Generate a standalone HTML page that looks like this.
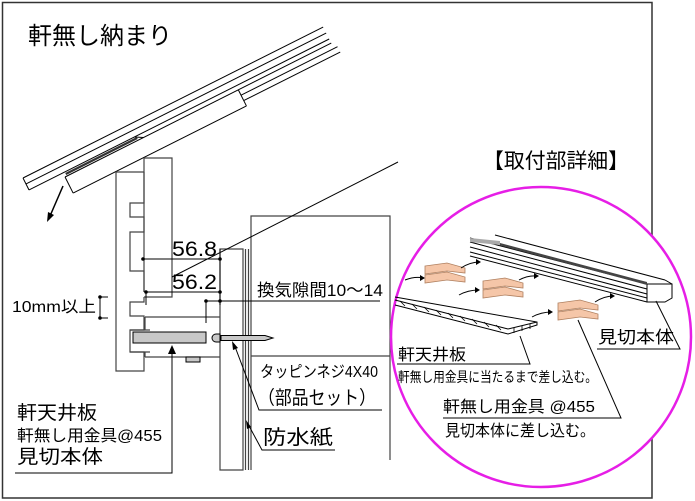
<!DOCTYPE html>
<html><head><meta charset="utf-8"><style>
html,body{margin:0;padding:0;background:#fff;}
svg{display:block;}
text{font-family:"Liberation Sans","Noto Sans CJK JP",sans-serif;fill:#000;}
</style></head><body>
<svg width="695" height="501" viewBox="0 0 695 501" xmlns="http://www.w3.org/2000/svg">
<rect x="0" y="0" width="695" height="501" fill="#fff"/>
<path d="M2.5 2.5 H652 V498 H2.5 Z" fill="none" stroke="#333" stroke-width="1.5"/>
<text x="28" y="44" font-size="24">軒無し納まり</text>

<g transform="translate(23,178) rotate(-26.7)" stroke="#000" stroke-width="1" fill="none">
  <line x1="0" y1="0" x2="336" y2="0"/>
  <line x1="0" y1="6.7" x2="336" y2="6.7"/>
  <line x1="0" y1="13.4" x2="336" y2="13.4"/>
  <line x1="0" y1="0" x2="0" y2="13.4"/>
  <line x1="38" y1="18" x2="336" y2="18"/>
  <line x1="232" y1="24" x2="340" y2="24"/>
  <line x1="232" y1="30" x2="340" y2="30"/>
  <line x1="38" y1="36" x2="232" y2="36"/>
  <line x1="38" y1="18" x2="38" y2="36"/>
  <line x1="232" y1="18" x2="232" y2="36"/>
  <line x1="118" y1="13.4" x2="126" y2="18"/>
  <rect x="40" y="14.5" width="80" height="2.2" fill="#333" stroke="none"/>
</g>
<line x1="63" y1="186" x2="50" y2="216" stroke="#000" stroke-width="1.5"/>
<path d="M47 222 L48 212 L54 215 Z" fill="#000"/>

<g stroke="#444" stroke-width="1.2" fill="none">
  <path d="M116 172 H144 M116 172 V371 H144 V352 H130 V330 H144 V316 H130 V302 H144 V297"/>
  <path d="M144 172 V203 H130 V217 H144 V232 H130 V271 H144 V292"/>
  <path d="M144 158 H172 V297 H144"/>
  <path d="M144 158 V292"/>
</g>
<g stroke="#444" stroke-width="1.2" fill="none">
  <path d="M145 317 H220 M145 357 H220 M145 317 V330 M145 352 V357"/>
  <path d="M130 330 H150 M130 352 H150"/>
</g>
<rect x="133" y="332" width="73" height="11" fill="#c8c8c8" stroke="#000" stroke-width="1"/>
<rect x="186" y="357" width="14" height="5" fill="#c8c8c8" stroke="#000" stroke-width="1"/>
<g stroke="#444" stroke-width="1.2" fill="none">
  <path d="M220 249 H243 V470 H220 Z"/>
  <line x1="245.5" y1="249" x2="245.5" y2="470"/>
  <line x1="248.5" y1="249" x2="248.5" y2="470"/>
  <path d="M251 470 V216 H390 V460"/>
  <line x1="251" y1="356" x2="390" y2="356"/>
</g>
<path d="M216 334 A4 4 0 0 0 216 342 H220 V334 Z" fill="#c8c8c8" stroke="#000" stroke-width="1"/>
<path d="M221 335.5 H265 L273 338 L265 340.5 H221 Z" fill="#c8c8c8" stroke="#000" stroke-width="1"/>

<g stroke="#000" stroke-width="1" fill="none">
  <line x1="143" y1="259" x2="220" y2="259"/>
  <line x1="145" y1="292" x2="220" y2="292"/>
  <line x1="146" y1="292" x2="146" y2="305"/>
  <line x1="206" y1="301" x2="380" y2="301"/>
  <line x1="206" y1="301" x2="206" y2="323"/>
  <line x1="220" y1="249" x2="220" y2="305"/>
  <line x1="172" y1="277" x2="398" y2="162"/>
  <path d="M100 297 V318 M100 297 H108 M100 318 H108"/>
</g>
<g fill="#000">
  <circle cx="143" cy="259" r="1.8"/><circle cx="220" cy="259" r="1.8"/>
  <circle cx="146" cy="292" r="1.8"/><circle cx="220" cy="292" r="1.8"/>
  <circle cx="206" cy="301" r="1.8"/><circle cx="220" cy="301" r="1.8"/>
  <circle cx="100" cy="297" r="1.8"/><circle cx="100" cy="318" r="1.8"/>
</g>
<text x="172" y="256" font-size="21" textLength="45" lengthAdjust="spacingAndGlyphs">56.8</text>
<text x="172" y="289" font-size="21" textLength="45" lengthAdjust="spacingAndGlyphs">56.2</text>
<text x="12" y="312" font-size="16" textLength="84" lengthAdjust="spacingAndGlyphs">10mm以上</text>

<text x="17" y="419" font-size="19" textLength="80" lengthAdjust="spacingAndGlyphs">軒天井板</text>
<text x="17" y="441" font-size="16" textLength="145" lengthAdjust="spacingAndGlyphs">軒無し用金具@455</text>
<text x="17" y="463" font-size="19" textLength="86" lengthAdjust="spacingAndGlyphs">見切本体</text>
<path d="M15 473 H172 V352" fill="none" stroke="#000" stroke-width="1"/>
<path d="M172 345 L168 354 H176 Z" fill="#000"/>

<text x="257" y="296" font-size="17" textLength="126" lengthAdjust="spacingAndGlyphs">換気隙間10～14</text>
<text x="260" y="377" font-size="16" textLength="118" lengthAdjust="spacingAndGlyphs">タッピンネジ4X40</text>
<text x="258" y="404" font-size="19" textLength="118" lengthAdjust="spacingAndGlyphs">（部品セット）</text>
<path d="M382 410 H259 L234 344" fill="none" stroke="#000" stroke-width="1"/>
<path d="M232 341 L233 350 L238 348 Z" fill="#000"/>
<text x="263" y="444" font-size="20" textLength="70" lengthAdjust="spacingAndGlyphs">防水紙</text>
<path d="M335 450 H262 L248 424" fill="none" stroke="#000" stroke-width="1"/>
<path d="M246 420 L247 429 L251 427 Z" fill="#000"/>

<text x="483" y="168" font-size="21" textLength="146" lengthAdjust="spacingAndGlyphs">【取付部詳細】</text>
<circle cx="541" cy="337" r="150" fill="#fff" stroke="#e61ee6" stroke-width="2.5"/>
<g stroke="#000" stroke-width="1" fill="none">
  <line x1="495" y1="235" x2="665" y2="280"/>
  <line x1="470" y1="238" x2="647" y2="284"/>
  <line x1="470" y1="242" x2="647" y2="289"/>
  <line x1="470" y1="247" x2="647" y2="294"/>
  <line x1="470" y1="252" x2="647" y2="298"/>
  <line x1="470" y1="256" x2="647" y2="302"/>
  <path d="M647 284 H672 V298 L665 302 H647 Z"/>
  <line x1="665" y1="280" x2="672" y2="284"/>
</g>
<path d="M500 243 L647 282 L647 285 L500 245.5 Z" fill="#444"/>
<path d="M470 238 L500 241 L500 245 L470 242 Z" fill="#aaa"/>
<g stroke="#000" stroke-width="1" fill="none">
  <path d="M395 297 L537 322 L537 325 L508 334 L395 305"/>
  <line x1="395" y1="300" x2="508" y2="329"/>
  <line x1="508" y1="329" x2="537" y2="322"/>
</g>
<g stroke="#000" stroke-width="0.8">
  <line x1="400" y1="301" x2="405" y2="306"/><line x1="412" y1="304" x2="417" y2="309"/>
  <line x1="424" y1="307" x2="429" y2="312"/><line x1="436" y1="310" x2="441" y2="315"/>
  <line x1="448" y1="313" x2="453" y2="318"/><line x1="460" y1="316" x2="465" y2="321"/>
  <line x1="472" y1="319" x2="477" y2="324"/><line x1="484" y1="322" x2="489" y2="327"/>
  <line x1="496" y1="325" x2="501" y2="330"/><line x1="514" y1="328" x2="514" y2="333"/>
  <line x1="522" y1="326" x2="522" y2="331"/><line x1="530" y1="324" x2="530" y2="329"/>
</g>
<g fill="#f5c6a8" stroke="#b08060" stroke-width="0.8">
  <path d="M425 266 L447 263 L465 268 L465 273 L447 271 L425 274 Z"/>
  <path d="M425 275 L447 272 L465 277 L465 282 L447 280 L425 283 Z"/>
  <path d="M483 281 L505 278 L523 283 L523 288 L505 286 L483 289 Z"/>
  <path d="M483 290 L505 287 L523 292 L523 297 L505 295 L483 298 Z"/>
  <path d="M558 303 L580 300 L598 305 L598 310 L580 308 L558 311 Z"/>
  <path d="M558 312 L580 309 L598 314 L598 319 L580 317 L558 320 Z"/>
</g>
<g stroke="#000" stroke-width="1" fill="none">
  <path d="M405 280 Q415 276 424 278"/><path d="M461 268 Q470 262 480 262"/>
  <path d="M459 295 Q468 290 479 290"/><path d="M519 280 Q528 275 538 276"/>
  <path d="M532 317 Q541 312 552 312"/><path d="M595 302 Q604 296 614 296"/>
</g>
<g fill="#000">
  <path d="M425 278 L420 275 L420 281 Z"/><path d="M481 262 L476 259 L476 265 Z"/>
  <path d="M480 290 L475 287 L475 293 Z"/><path d="M539 276 L534 273 L534 279 Z"/>
  <path d="M553 312 L548 309 L548 315 Z"/><path d="M615 296 L610 293 L610 299 Z"/>
</g>
<text x="598" y="343" font-size="17" textLength="76" lengthAdjust="spacingAndGlyphs">見切本体</text>
<path d="M597 349 H680 L656 301" fill="none" stroke="#000" stroke-width="1"/>
<text x="398" y="360" font-size="16" textLength="68" lengthAdjust="spacingAndGlyphs">軒天井板</text>
<path d="M397 364 H530 L520 336" fill="none" stroke="#000" stroke-width="1"/>
<text x="398" y="382" font-size="14" textLength="199" lengthAdjust="spacingAndGlyphs">軒無し用金具に当たるまで差し込む。</text>
<text x="443" y="412" font-size="16" textLength="152" lengthAdjust="spacingAndGlyphs">軒無し用金具 @455</text>
<path d="M443 418 H621 L578 320" fill="none" stroke="#000" stroke-width="1"/>
<text x="445" y="436" font-size="16" textLength="150" lengthAdjust="spacingAndGlyphs">見切本体に差し込む。</text>
</svg>
</body></html>
